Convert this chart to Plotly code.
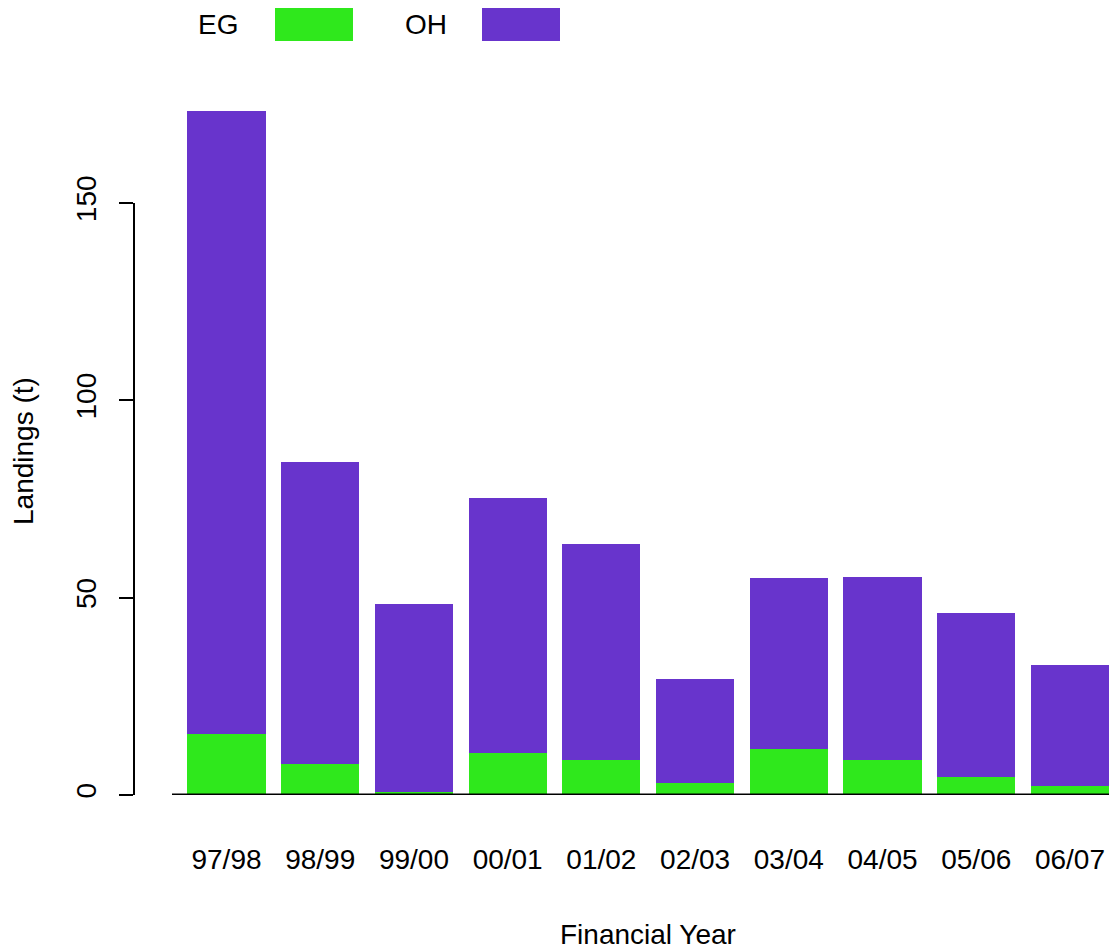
import plotly.graph_objects as go

years = ["97/98", "98/99", "99/00", "00/01", "01/02", "02/03", "03/04", "04/05", "05/06", "06/07"]
eg = [15.5, 7.8, 0.8, 10.6, 8.8, 3.0, 11.7, 8.9, 4.6, 2.3]
oh = [157.8, 76.6, 47.6, 64.6, 54.8, 26.4, 43.3, 46.3, 41.5, 30.6]
y_ticks = [0, 50, 100, 150]

EG_COLOR = "#2FE81C"
OH_COLOR = "#6834CC"
FONT = "Liberation Sans, Arial, sans-serif"

# The page body has an 8px margin; lay out in reference pixels, then offset.
OFF = 8
W_REF, H_REF = 1117, 951
PLOT_L, PLOT_R, PLOT_T, PLOT_B = 134, 1117, 90, 795  # reference pixel frame of plot area
W, H = W_REF - OFF, H_REF - OFF
PW, PH = PLOT_R - PLOT_L, PLOT_B - PLOT_T
y_scale = 592 / 150.0
y_max = PH / y_scale
cat_px = 93.72
first_center = 226.5
x_lo = (PLOT_L - first_center) / cat_px
x_hi = (PLOT_R - first_center) / cat_px


def px(xp):
    return (xp - PLOT_L) / PW


def py(yp):
    return (PLOT_B - yp) / PH


fig = go.Figure()
fig.add_trace(go.Bar(x=years, y=eg, name="EG", marker=dict(color=EG_COLOR, line=dict(width=0))))
fig.add_trace(go.Bar(x=years, y=oh, name="OH", marker=dict(color=OH_COLOR, line=dict(width=0))))

shapes = [
    dict(type="line", xref="paper", yref="y", x0=0, x1=0, y0=0, y1=150,
         line=dict(color="black", width=2)),
    dict(type="line", xref="paper", yref="y", x0=px(172), x1=1, y0=0, y1=0,
         line=dict(color="black", width=3)),
    dict(type="rect", xref="paper", yref="paper", x0=px(275), x1=px(353), y0=py(41), y1=py(8),
         fillcolor=EG_COLOR, line=dict(width=0)),
    dict(type="rect", xref="paper", yref="paper", x0=px(482), x1=px(560), y0=py(41), y1=py(8),
         fillcolor=OH_COLOR, line=dict(width=0)),
]

annotations = [
    dict(text="EG", xref="paper", yref="paper", x=px(218), y=py(25), showarrow=False,
         xanchor="center", yanchor="middle", font=dict(size=28, color="black", family=FONT)),
    dict(text="OH", xref="paper", yref="paper", x=px(426), y=py(25), showarrow=False,
         xanchor="center", yanchor="middle", font=dict(size=28, color="black", family=FONT)),
    dict(text="Financial Year", xref="paper", yref="paper", x=px(648), y=py(934), showarrow=False,
         xanchor="center", yanchor="middle", font=dict(size=28, color="black", family=FONT)),
    dict(text="Landings (t)", xref="paper", yref="paper", x=px(23), y=py(451), showarrow=False,
         textangle=-90, xanchor="center", yanchor="middle",
         font=dict(size=28, color="black", family=FONT)),
]

fig.update_layout(
    width=W, height=H,
    margin=dict(l=PLOT_L - OFF, r=0, t=PLOT_T - OFF, b=H - (PLOT_B - OFF), pad=0),
    barmode="stack",
    bargap=1 / 6,
    plot_bgcolor="white",
    paper_bgcolor="white",
    showlegend=False,
    font=dict(family=FONT, size=28, color="black"),
    shapes=shapes,
    annotations=annotations,
    xaxis=dict(
        type="category", range=[x_lo, x_hi], showgrid=False, zeroline=False, showline=False,
        ticks="", tickfont=dict(size=28, family=FONT, color="black"), ticklabelstandoff=45,
        fixedrange=True,
    ),
    yaxis=dict(
        range=[0, y_max], showgrid=False, zeroline=False, showline=False,
        tickmode="array", tickvals=y_ticks, ticktext=[str(v) for v in y_ticks],
        ticks="outside", ticklen=14, tickwidth=2, tickcolor="black",
        tickangle=-90, tickfont=dict(size=28, family=FONT, color="black"),
        ticklabelstandoff=12, fixedrange=True,
    ),
)

fig.write_html("out.html")
